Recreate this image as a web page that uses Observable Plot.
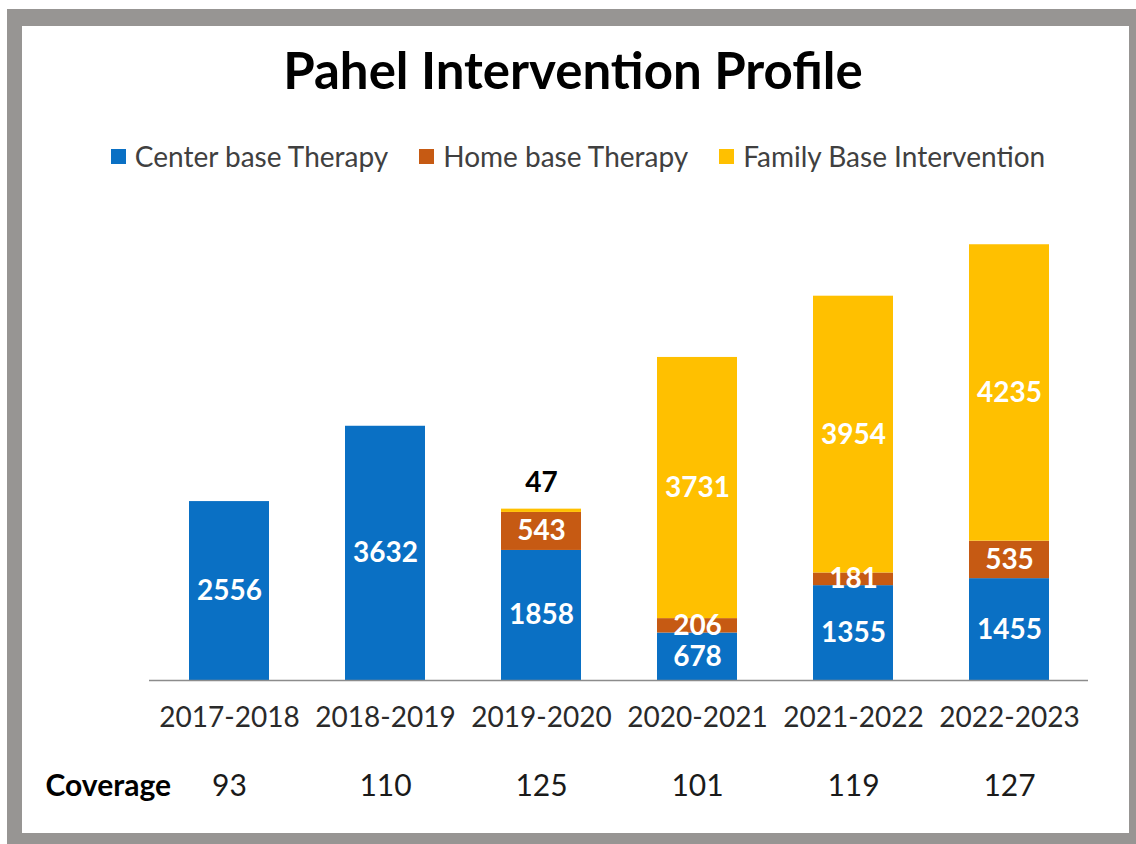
<!DOCTYPE html>
<html>
<head>
<meta charset="utf-8">
<script src="https://cdn.jsdelivr.net/npm/d3@7"></script>
<script src="https://cdn.jsdelivr.net/npm/@observablehq/plot@0.6"></script>
<style>
  html, body { margin: 0; padding: 0; background: #fff; }
  #page { position: relative; width: 1136px; height: 844px; background: #fff; overflow: hidden; font-family: Lato, "Open Sans", sans-serif; }
  #frame { position: absolute; left: 7px; top: 9px; width: 1129px; height: 835px; box-sizing: border-box;
           border-style: solid; border-color: #979593; border-width: 17px 7px 11px 15px; background: #fff; }
  #title { position: absolute; left: 0; width: 1146px; top: 40px; line-height: 60px; text-align: center; font-size: 51px; font-weight: 700; color: #000; }
  #legend { position: absolute; left: 0; width: 1156px; top: 139px; line-height: 34px; display: flex; justify-content: center; gap: 31px; font-size: 28px; color: #404040; }
  .item { display: flex; align-items: center; gap: 9px; }
  .sw { width: 15px; height: 15px; display: inline-block; }
  #chart { position: absolute; left: 0; top: 180px; }
</style>
</head>
<body>
<div id="page">
  <div id="frame"></div>
  <div id="title">Pahel Intervention Profile</div>
  <div id="legend"></div>
  <div id="chart"></div>
</div>
<script>
const years = ["2017-2018", "2018-2019", "2019-2020", "2020-2021", "2021-2022", "2022-2023"];
const seriesNames = ["Center base Therapy", "Home base Therapy", "Family Base Intervention"];
const seriesColors = ["#0A70C4", "#C65A13", "#FFC000"];
const centerBase = [2556, 3632, 1858, 678, 1355, 1455];
const homeBase = [0, 0, 543, 206, 181, 535];
const familyBase = [0, 0, 47, 3731, 3954, 4235];
const coverage = [93, 110, 125, 101, 119, 127];

const seriesValues = [centerBase, homeBase, familyBase];
const data = [];
seriesNames.forEach((s, i) => {
  years.forEach((y, j) => {
    const v = seriesValues[i][j];
    if (v > 0) data.push({year: y, series: s, value: v});
  });
});
const covData = years.map((y, i) => ({year: y, cov: coverage[i]}));

// legend
const legend = document.getElementById("legend");
seriesNames.forEach((s, i) => {
  const it = document.createElement("div");
  it.className = "item";
  it.innerHTML = `<span class="sw" style="background:${seriesColors[i]}"></span><span>${s}</span>`;
  legend.appendChild(it);
});

const chart = Plot.plot({
  width: 1136,
  height: 630,
  marginTop: 10,
  marginBottom: 130,
  marginLeft: 149,
  marginRight: 48,
  style: {fontFamily: "Lato, 'Open Sans', sans-serif", background: "transparent", overflow: "visible"},
  x: {domain: years, paddingInner: 0.49, paddingOuter: 0.245, label: null},
  y: {domain: [0, 7000], axis: null},
  color: {domain: seriesNames, range: seriesColors},
  marks: [
    Plot.barY(data, {x: "year", y: "value", fill: "series", order: seriesNames}),
    Plot.ruleY([0], {stroke: "#8c8c8c", strokeWidth: 1.5}),
    Plot.axisX({tickSize: 0, tickPadding: 27, fontSize: 28, fill: "#2a2a2a", label: null}),
    Plot.text(data, Plot.stackY({x: "year", y: "value", z: "series", order: seriesNames,
      text: d => d.value >= 100 ? String(d.value) : "",
      fill: "white", fontSize: 28, fontWeight: "bold", lineAnchor: "middle"})),
    Plot.text(data, Plot.stackY2({x: "year", y: "value", z: "series", order: seriesNames,
      text: d => d.value < 100 ? String(d.value) : "",
      fill: "black", fontSize: 28, fontWeight: "bold", lineAnchor: "middle", dy: -26})),
    Plot.text(covData, {x: "year", text: "cov", frameAnchor: "bottom", dy: 106, lineAnchor: "middle",
      fontSize: 30, fill: "#1a1a1a"}),
    Plot.text(["Coverage"], {frameAnchor: "bottom-left", dx: -104, dy: 106, textAnchor: "start", lineAnchor: "middle",
      fontSize: 30, fontWeight: "bold", fill: "#000"})
  ]
});
document.getElementById("chart").appendChild(chart);
</script>
</body>
</html>
